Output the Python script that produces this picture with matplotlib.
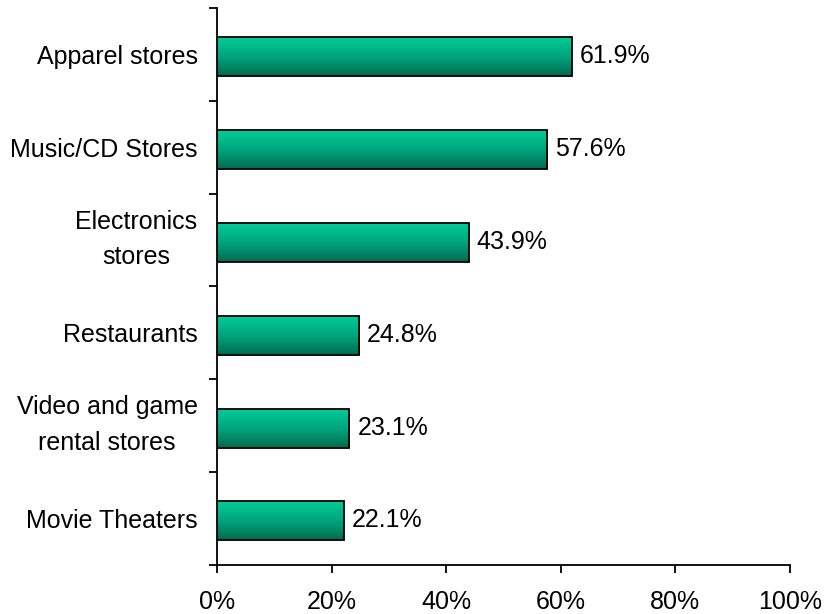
import matplotlib.pyplot as plt
import numpy as np
from matplotlib.colors import LinearSegmentedColormap
from matplotlib.transforms import ScaledTranslation

plt.rcParams['font.family'] = ['Liberation Sans', 'DejaVu Sans']

categories = ['Apparel stores', 'Music/CD Stores', 'Electronics\nstores',
              'Restaurants', 'Video and game\nrental stores', 'Movie Theaters']
values = [61.9, 57.6, 43.9, 24.8, 23.1, 22.1]
xticks = [0, 20, 40, 60, 80, 100]

fig = plt.figure(figsize=(8.24, 6.14), dpi=100)
ax = fig.add_axes([0.2633, 0.0798, 0.6954, 0.9072])

# vertical green shading on each bar
shade = LinearSegmentedColormap.from_list('shade', ['#00CC99', '#00A67C', '#006A50'])
grad = np.linspace(0, 1, 256).reshape(-1, 1)

n = len(categories)
ypos = np.arange(n)[::-1]
barpos = ypos - 0.025
h = 0.42
for y, yb, v in zip(ypos, barpos, values):
    ax.imshow(grad, cmap=shade, aspect='auto', interpolation='bicubic',
              extent=(0, v, yb - h / 2, yb + h / 2), origin='upper', zorder=2)
    ax.text(v + 1.4, y - 0.02, f'{v:.1f}%', va='center', ha='left', fontsize=18)
ax.barh(barpos, values, height=h, fill=False, edgecolor='black', linewidth=1.3, zorder=3)

ax.set_xlim(0, 100)
ax.set_ylim(-0.5, n - 0.5)
ax.set_xticks(xticks)
ax.set_xticklabels([f'{t}%' for t in xticks], fontsize=18)
ax.set_yticks(ypos)
ax.set_yticklabels(categories, fontsize=18, ha='right', multialignment='center',
                   linespacing=1.6)
ax.tick_params(axis='y', which='major', length=0, pad=14)
ax.set_yticks(np.arange(n + 1) - 0.5, minor=True)
ax.tick_params(axis='y', which='minor', length=6, width=1.3)
ax.tick_params(axis='x', length=6, width=1.3, pad=12)

# two-line labels sit a little high
for lab in ax.get_yticklabels():
    if '\n' in lab.get_text():
        lab.set_transform(lab.get_transform() + ScaledTranslation(0, 9 / 100, fig.dpi_scale_trans))

for s in ['top', 'right']:
    ax.spines[s].set_visible(False)
for s in ['left', 'bottom']:
    ax.spines[s].set_linewidth(1.3)

fig.savefig('out.png', dpi=100)
